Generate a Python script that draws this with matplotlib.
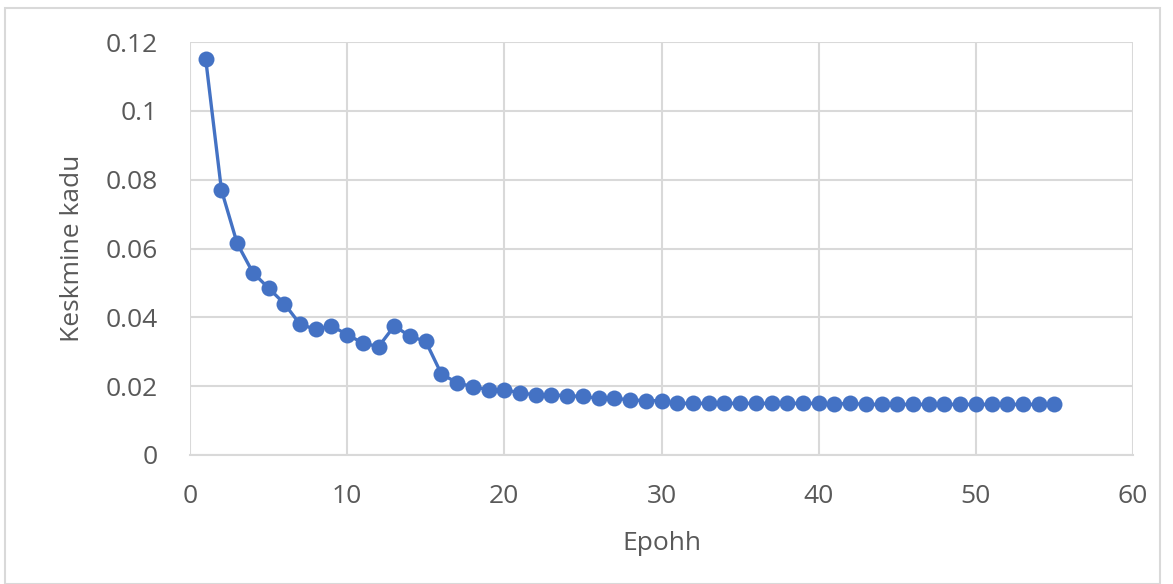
import matplotlib.pyplot as plt
from matplotlib.patches import Rectangle

# Epochs and mean loss
epochs = list(range(1, 56))
loss = [0.115, 0.077, 0.0615, 0.053, 0.0485, 0.044, 0.038, 0.0365, 0.0375, 0.035,
        0.0325, 0.0315, 0.0375, 0.0345, 0.033, 0.0235, 0.021, 0.0198, 0.019, 0.019,
        0.018, 0.0175, 0.0175, 0.0172, 0.017, 0.0165, 0.0165, 0.016, 0.0158, 0.0158,
        0.015, 0.015, 0.015, 0.015, 0.015, 0.015, 0.015, 0.015, 0.015, 0.015,
        0.0148, 0.015, 0.0147, 0.0147, 0.0147, 0.0147, 0.0147, 0.0147, 0.0147, 0.0147,
        0.0147, 0.0147, 0.0147, 0.0147, 0.0147]

x_ticks = [0, 10, 20, 30, 40, 50, 60]
y_ticks = [0, 0.02, 0.04, 0.06, 0.08, 0.1, 0.12]
y_labels = ['0', '0.02', '0.04', '0.06', '0.08', '0.1', '0.12']

plt.rcParams['font.family'] = ['Open Sans', 'DejaVu Sans']

fig = plt.figure(figsize=(11.73, 5.84), dpi=100)
fig.patches.append(Rectangle((5 / 1173, 0), 1155 / 1173, 1 - 8 / 584,
                             transform=fig.transFigure, fill=False,
                             edgecolor='#d9d9d9', linewidth=1.5))
ax = fig.add_axes([190 / 1173, 1 - 455 / 584, (1133 - 190) / 1173, (455 - 42) / 584])

ax.plot(epochs, loss, color='#4472c4', linewidth=2.4, marker='o',
        markersize=11.5, markeredgewidth=0, zorder=3)

ax.set_xlim(0, 60)
ax.set_ylim(0, 0.12)
ax.set_xticks(x_ticks)
ax.set_yticks(y_ticks)
ax.set_yticklabels(y_labels)
ax.grid(True, color='#d9d9d9', linewidth=1.5)
ax.set_axisbelow(True)
for s in ['top', 'right', 'left']:
    ax.spines[s].set_visible(False)
ax.spines['bottom'].set_color('#d9d9d9')
ax.spines['bottom'].set_linewidth(1.5)
ax.tick_params(length=0, labelsize=19, labelcolor='#595959')
ax.tick_params(axis='x', pad=21)
ax.tick_params(axis='y', pad=23)

ax.set_xlabel('Epohh', fontsize=19, color='#595959', labelpad=16)
ax.set_ylabel('Keskmine kadu', fontsize=19, color='#595959', labelpad=15)

fig.savefig('out.png', dpi=100)
